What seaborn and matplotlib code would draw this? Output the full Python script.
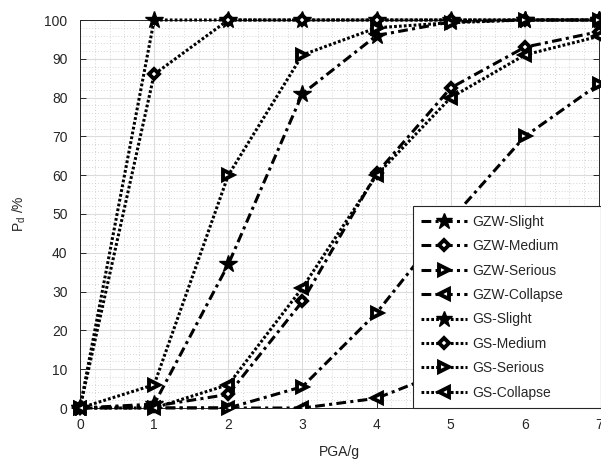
import matplotlib
matplotlib.use("Agg")
import matplotlib.pyplot as plt
from matplotlib.ticker import MultipleLocator
import seaborn as sns
import pandas as pd

sns.set_theme(style="white")
plt.rcParams["font.family"] = ["Liberation Sans", "DejaVu Sans"]
plt.rcParams["mathtext.fontset"] = "custom"
plt.rcParams["mathtext.rm"] = "Liberation Sans"
plt.rcParams["mathtext.it"] = "Liberation Sans"

# Peak ground acceleration levels (g)
pga = [0, 1, 2, 3, 4, 5, 6, 7]

# Damage exceedance probability (%) for the GZW structure
gzw_slight = [0, 1, 37, 81, 96, 99.5, 100, 100]
gzw_medium = [0, 0.5, 3.5, 27.5, 60.5, 82.5, 93, 97]
gzw_serious = [0, 0, 0, 5.5, 24.5, 48.5, 70, 83.5]
gzw_collapse = [0, 0, 0, 0, 2.5, 10, 22, 40]

# Damage exceedance probability (%) for the GS structure
gs_slight = [0, 100, 100, 100, 100, 100, 100, 100]
gs_medium = [0, 86, 100, 100, 100, 100, 100, 100]
gs_serious = [0, 6, 60, 91, 98, 99.3, 100, 100]
gs_collapse = [0, 0, 6, 31, 60, 80, 91, 95.8]

labels = ["GZW-Slight", "GZW-Medium", "GZW-Serious", "GZW-Collapse",
          "GS-Slight", "GS-Medium", "GS-Serious", "GS-Collapse"]
series = [gzw_slight, gzw_medium, gzw_serious, gzw_collapse,
          gs_slight, gs_medium, gs_serious, gs_collapse]
markers = ["*", "D", ">", "<", "*", "D", ">", "<"]

dashdot = (0, (3.2, 1.4, 1.0, 1.4))
dotted = (0, (0.9, 0.7))

fig = plt.figure(figsize=(6.01, 4.62), dpi=100)
ax = fig.add_axes([80 / 601, 1 - 408 / 462, 519 / 601, 388 / 462])

for lab, vals, mk in zip(labels, series, markers):
    ls = dashdot if lab.startswith("GZW") else dotted
    if mk == "*":
        kw = dict(markersize=13, markerfacecolor="black", markeredgecolor="black",
                  markeredgewidth=1)
    elif mk == "D":
        kw = dict(markersize=5.5, markerfacecolor="white", markeredgecolor="black",
                  markeredgewidth=2.8)
    else:
        kw = dict(markersize=7.5, markerfacecolor="white", markeredgecolor="black",
                  markeredgewidth=2.8)
    # the collapse curve runs entirely behind the legend at the right edge
    clip = lab == "GZW-Collapse"
    df = pd.DataFrame({"PGA": pga, "Pd": vals})
    sns.lineplot(data=df, x="PGA", y="Pd", ax=ax, color="black", linewidth=2.2,
                 linestyle=ls, marker=mk, label=lab, clip_on=clip, zorder=3, **kw)

ax.set_xlim(0, 7)
ax.set_ylim(0, 100)
ax.xaxis.set_major_locator(MultipleLocator(1))
ax.yaxis.set_major_locator(MultipleLocator(10))
ax.xaxis.set_minor_locator(MultipleLocator(0.2))
ax.yaxis.set_minor_locator(MultipleLocator(2))
ax.grid(which="major", color="#dcdcdc", linewidth=0.8, linestyle="-")
ax.grid(which="minor", color="#c8c8c8", linewidth=0.6, linestyle=(0, (1, 2.5)))
ax.set_axisbelow(True)

ax.tick_params(which="major", direction="in", length=4, width=0.7, color="#262626",
               labelsize=10, labelcolor="#262626", top=True, right=True,
               bottom=True, left=True)
ax.tick_params(axis="x", which="major", pad=7.5)
ax.tick_params(axis="y", which="major", pad=9)
ax.tick_params(which="minor", length=0)
for sp in ax.spines.values():
    sp.set_color("#262626")
    sp.set_linewidth(0.7)

ax.set_xlabel("PGA/g", fontsize=10, color="#262626", labelpad=9)
ax.set_ylabel(r"P$_{\rm d}$ /%", fontsize=10, color="#262626", labelpad=12)

# Legend box stretched over the lower-right corner of the axes
leg = ax.legend(loc="lower left", bbox_to_anchor=(333 / 519, 0, 188 / 519, 0.5),
                mode="expand", fontsize=10, frameon=True, fancybox=False,
                edgecolor="#262626", framealpha=1, handlelength=3.3,
                handletextpad=0.35, labelspacing=0.75, borderpad=0.6,
                borderaxespad=0.0, markerscale=0.9)
leg.get_frame().set_linewidth(0.8)
leg.set_zorder(5)

fig.savefig("out.png", dpi=100)
